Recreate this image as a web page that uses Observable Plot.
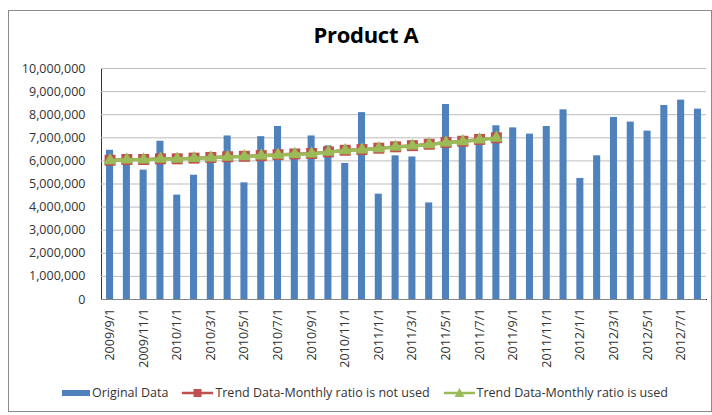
<!DOCTYPE html>
<html>
<head>
<meta charset="utf-8">
<script src="https://cdn.jsdelivr.net/npm/d3@7"></script>
<script src="https://cdn.jsdelivr.net/npm/@observablehq/plot@0.6"></script>
<style>
  html, body { margin: 0; padding: 0; background: #fff; }
  body { width: 712px; height: 415px; position: relative; overflow: hidden; font-family: "Open Sans", "Liberation Sans", sans-serif; }
  #frame { position: absolute; left: 8px; top: 10px; width: 704px; height: 402px; border: 1px solid #8a8a8a; box-sizing: border-box; }
  #title { position: absolute; left: 0; width: 732px; top: 19px; text-align: center; font-weight: 700; font-size: 22px; color: #000; letter-spacing: -0.3px; }
  #chart { position: absolute; left: 0; top: 50px; width: 712px; }
  #legend { position: absolute; left: 62px; top: 384px; display: flex; align-items: center; font-size: 12.5px; color: #333; white-space: nowrap; }
  #legend .item { display: flex; align-items: center; margin-right: 14px; }
  #legend svg { display: block; margin-right: 2px; }
</style>
</head>
<body>
<div id="frame"></div>
<div id="title">Product A</div>
<div id="chart"></div>
<div id="legend"></div>
<script>
const months = [
  "2009/9/1","2009/10/1","2009/11/1","2009/12/1",
  "2010/1/1","2010/2/1","2010/3/1","2010/4/1","2010/5/1","2010/6/1","2010/7/1","2010/8/1","2010/9/1","2010/10/1","2010/11/1","2010/12/1",
  "2011/1/1","2011/2/1","2011/3/1","2011/4/1","2011/5/1","2011/6/1","2011/7/1","2011/8/1","2011/9/1","2011/10/1","2011/11/1","2011/12/1",
  "2012/1/1","2012/2/1","2012/3/1","2012/4/1","2012/5/1","2012/6/1","2012/7/1","2012/8/1"
];
const originalData = [
  6460000, 6100000, 5600000, 6850000,
  4520000, 5380000, 6050000, 7080000, 5050000, 7050000, 7490000, 6200000, 7080000, 6650000, 5890000, 8090000,
  4560000, 6220000, 6170000, 4180000, 8440000, 6750000, 6900000, 7520000, 7430000, 7160000, 7490000, 8210000,
  5240000, 6220000, 7880000, 7680000, 7290000, 8400000, 8630000, 8240000
];
const trendNoRatio = [
  6030000, 6060000, 6060000, 6090000, 6090000, 6120000, 6150000, 6180000, 6200000, 6230000, 6270000, 6300000,
  6320000, 6390000, 6460000, 6490000, 6550000, 6610000, 6660000, 6720000, 6800000, 6850000, 6930000, 7000000
];
const trendRatio = [
  6020000, 6050000, 6050000, 6080000, 6080000, 6110000, 6140000, 6170000, 6190000, 6220000, 6260000, 6290000,
  6310000, 6380000, 6450000, 6480000, 6540000, 6600000, 6650000, 6710000, 6790000, 6840000, 6920000, 6990000
];
const yTicks = [0,1000000,2000000,3000000,4000000,5000000,6000000,7000000,8000000,9000000,10000000];
const seriesNames = ["Original Data", "Trend Data-Monthly ratio is not used", "Trend Data-Monthly ratio is used"];
const colors = ["#4F81BD", "#C0504D", "#9BBB59"];

const bars = months.map((m, i) => ({month: m, value: originalData[i]}));
const t1 = trendNoRatio.map((v, i) => ({month: months[i], value: v}));
const t2 = trendRatio.map((v, i) => ({month: months[i], value: v}));

const chart = Plot.plot({
  width: 712,
  height: 330,
  marginLeft: 101,
  marginRight: 6,
  marginTop: 18,
  marginBottom: 81,
  style: {fontFamily: "'Open Sans', 'Liberation Sans', sans-serif", fontSize: "12.5px", color: "#333", background: "transparent", overflow: "visible"},
  x: {type: "band", domain: months, paddingInner: 0.58, paddingOuter: 0.3, round: false, label: null,
      tickRotate: -90, tickSize: 0, tickPadding: 9, ticks: months.filter((d, i) => i % 2 === 0), line: true},
  y: {domain: [0, 10000000], ticks: yTicks, tickFormat: d3.format(","), label: null, tickSize: 0, tickPadding: 16, line: true},
  marks: [
    Plot.ruleY(yTicks.slice(1), {stroke: "#bdbdbd", strokeWidth: 1}),
    Plot.barY(bars, {x: "month", y: "value", fill: colors[0]}),
    Plot.ruleY([0], {stroke: "#868686"}),
    Plot.line(t1, {x: "month", y: "value", stroke: colors[1], strokeWidth: 3}),
    Plot.dot(t1, {x: "month", y: "value", symbol: "square", r: 6.2, fill: colors[1]}),
    Plot.line(t2, {x: "month", y: "value", stroke: colors[2], strokeWidth: 3.5}),
    Plot.dot(t2, {x: "month", y: "value", symbol: "triangle", r: 4.8, fill: colors[2]})
  ]
});
document.getElementById("chart").appendChild(chart);

const legend = document.getElementById("legend");
const swatches = [
  '<svg width="28" height="10"><rect x="0" y="2" width="28" height="6" fill="' + colors[0] + '"/></svg>',
  '<svg width="31" height="10"><line x1="0" y1="5" x2="31" y2="5" stroke="' + colors[1] + '" stroke-width="2.5"/><rect x="11.5" y="1" width="8" height="8" fill="' + colors[1] + '"/></svg>',
  '<svg width="31" height="10"><line x1="0" y1="5" x2="31" y2="5" stroke="' + colors[2] + '" stroke-width="2.5"/><path d="M15.5,0 L20.5,9 L10.5,9 Z" fill="' + colors[2] + '"/></svg>'
];
seriesNames.forEach((name, i) => {
  const item = document.createElement("div");
  item.className = "item";
  item.innerHTML = swatches[i] + "<span>" + name + "</span>";
  legend.appendChild(item);
});
</script>
</body>
</html>
